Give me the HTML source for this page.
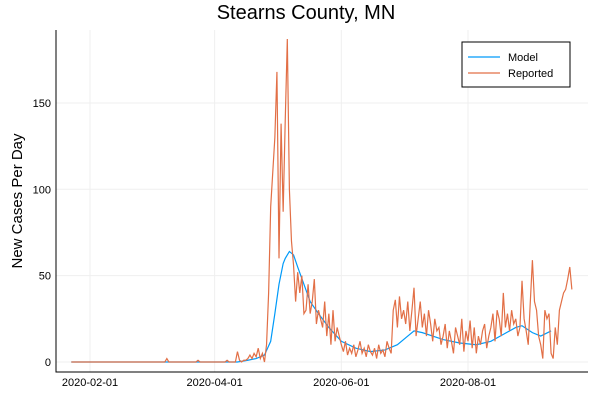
<!DOCTYPE html>
<html><head><meta charset="utf-8"><style>
body{margin:0;background:#fff;font-family:"Liberation Sans",sans-serif}
</style></head><body>
<svg id="c" width="600" height="400" xmlns="http://www.w3.org/2000/svg" font-family="Liberation Sans, sans-serif"></svg>
<script>
const xTickLabels=["2020-02-01","2020-04-01","2020-06-01","2020-08-01"];
const yTicks=[0,50,100,150];
const reportedStart="2020-01-23";
const reported=[0,0,0,0,0,0,0,0,0,
0,0,0,0,0,0,0,0,0,0,0,0,0,0,0,0,0,0,0,0,0,0,0,0,0,0,0,0,0,
0,0,0,0,0,0,0,0,2,0,0,0,0,0,0,0,0,0,0,0,0,0,0,1,0,0,0,0,0,0,0,
0,0,0,0,0,0,1,0,0,0,0,6,1,0,1,1,2,4,2,5,3,8,2,5,0,10,40,90,110,130,
168,60,138,87,140,187,100,70,56,35,52,40,50,28,30,45,28,35,48,22,30,25,20,35,15,28,10,30,12,20,15,
10,6,12,4,8,5,10,3,7,12,5,8,3,10,6,4,8,2,10,5,7,3,12,8,5,30,36,20,38,25,
30,22,35,18,30,43,15,25,35,20,28,15,30,22,12,25,18,20,10,15,22,8,18,12,5,20,15,10,25,6,18,
12,24,8,20,5,15,10,18,22,8,15,20,28,12,30,25,15,40,20,28,18,30,22,25,15,20,47,25,18,10,35,
59,35,30,15,10,2,30,25,28,5,2,20,10,30,35,40,42,48,55,42];
const modelDates=["2020-01-23","2020-04-12","2020-04-17","2020-04-21","2020-04-25","2020-04-28","2020-04-30","2020-05-02","2020-05-04","2020-05-05","2020-05-07","2020-05-09","2020-05-11","2020-05-14","2020-05-17","2020-05-21","2020-05-26","2020-06-01","2020-06-08","2020-06-15","2020-06-22","2020-06-28","2020-07-03","2020-07-06","2020-07-10","2020-07-15","2020-07-20","2020-07-28","2020-08-05","2020-08-12","2020-08-18","2020-08-24","2020-08-27","2020-09-01","2020-09-05","2020-09-10"];
const modelValues=[0,0,1,2,4,12,28,45,57,60,64,62,55,45,35,28,20,12,8,6,7,10,15,18,17,15,13,11,10,12,16,20,21,17,15,18];
const svg=document.getElementById('c');const NS="http://www.w3.org/2000/svg";
const L=56,R=588,T=30,B=372;
const base=Date.parse("2020-02-01");
function xd(s){return 90+(Date.parse(s)-base)/864e5*2.077;}
function xi(i){return xd(reportedStart)+i*2.077;}
function y(v){return 362-v*1.727;}
function el(t,a,p){const e=document.createElementNS(NS,t);for(const k in a)e.setAttribute(k,a[k]);(p||svg).appendChild(e);return e;}
let e;
yTicks.forEach(v=>{e=el('line',{x1:L,x2:R,y1:y(v),y2:y(v),stroke:'#efefef','stroke-width':1});

e=el('text',{x:51,y:y(v)+4,'text-anchor':'end','font-size':11,fill:'#000'});e.textContent=v;
});
xTickLabels.forEach(s=>{const x=xd(s);e=el('line',{x1:x,x2:x,y1:T,y2:B,stroke:'#efefef','stroke-width':1});

e=el('text',{x:x,y:386,'text-anchor':'middle','font-size':11,fill:'#000'});e.textContent=s;
});
e=el('path',{d:`M${L},${T}V${B}H${R}`,fill:'none',stroke:'#000','stroke-width':1});

e=el('polyline',{points:modelValues.map((v,i)=>xd(modelDates[i])+','+y(v)).join(' '),fill:'none',stroke:'#009af9','stroke-width':1.2});

e=el('polyline',{points:reported.map((v,i)=>xi(i)+','+y(v)).join(' '),fill:'none',stroke:'#e26f46','stroke-width':1.2});

e=el('text',{x:306,y:19,'text-anchor':'middle','font-size':20,fill:'#000'});e.textContent="Stearns County, MN";

e=el('text',{x:22,y:201,'text-anchor':'middle','font-size':15,fill:'#000',transform:'rotate(-90 22 201)'});e.textContent="New Cases Per Day";

const g=el('g',{});
el('rect',{x:462,y:42,width:108,height:45,fill:'#fff',stroke:'#000','stroke-width':1},g);
e=el('line',{x1:468,x2:500,y1:57,y2:57,stroke:'#009af9','stroke-width':1.2},g);
e=el('text',{x:508,y:61,'font-size':11},g);e.textContent="Model";

e=el('line',{x1:468,x2:500,y1:73,y2:73,stroke:'#e26f46','stroke-width':1.2},g);
e=el('text',{x:508,y:77,'font-size':11},g);e.textContent="Reported";

</script>
</body></html>
